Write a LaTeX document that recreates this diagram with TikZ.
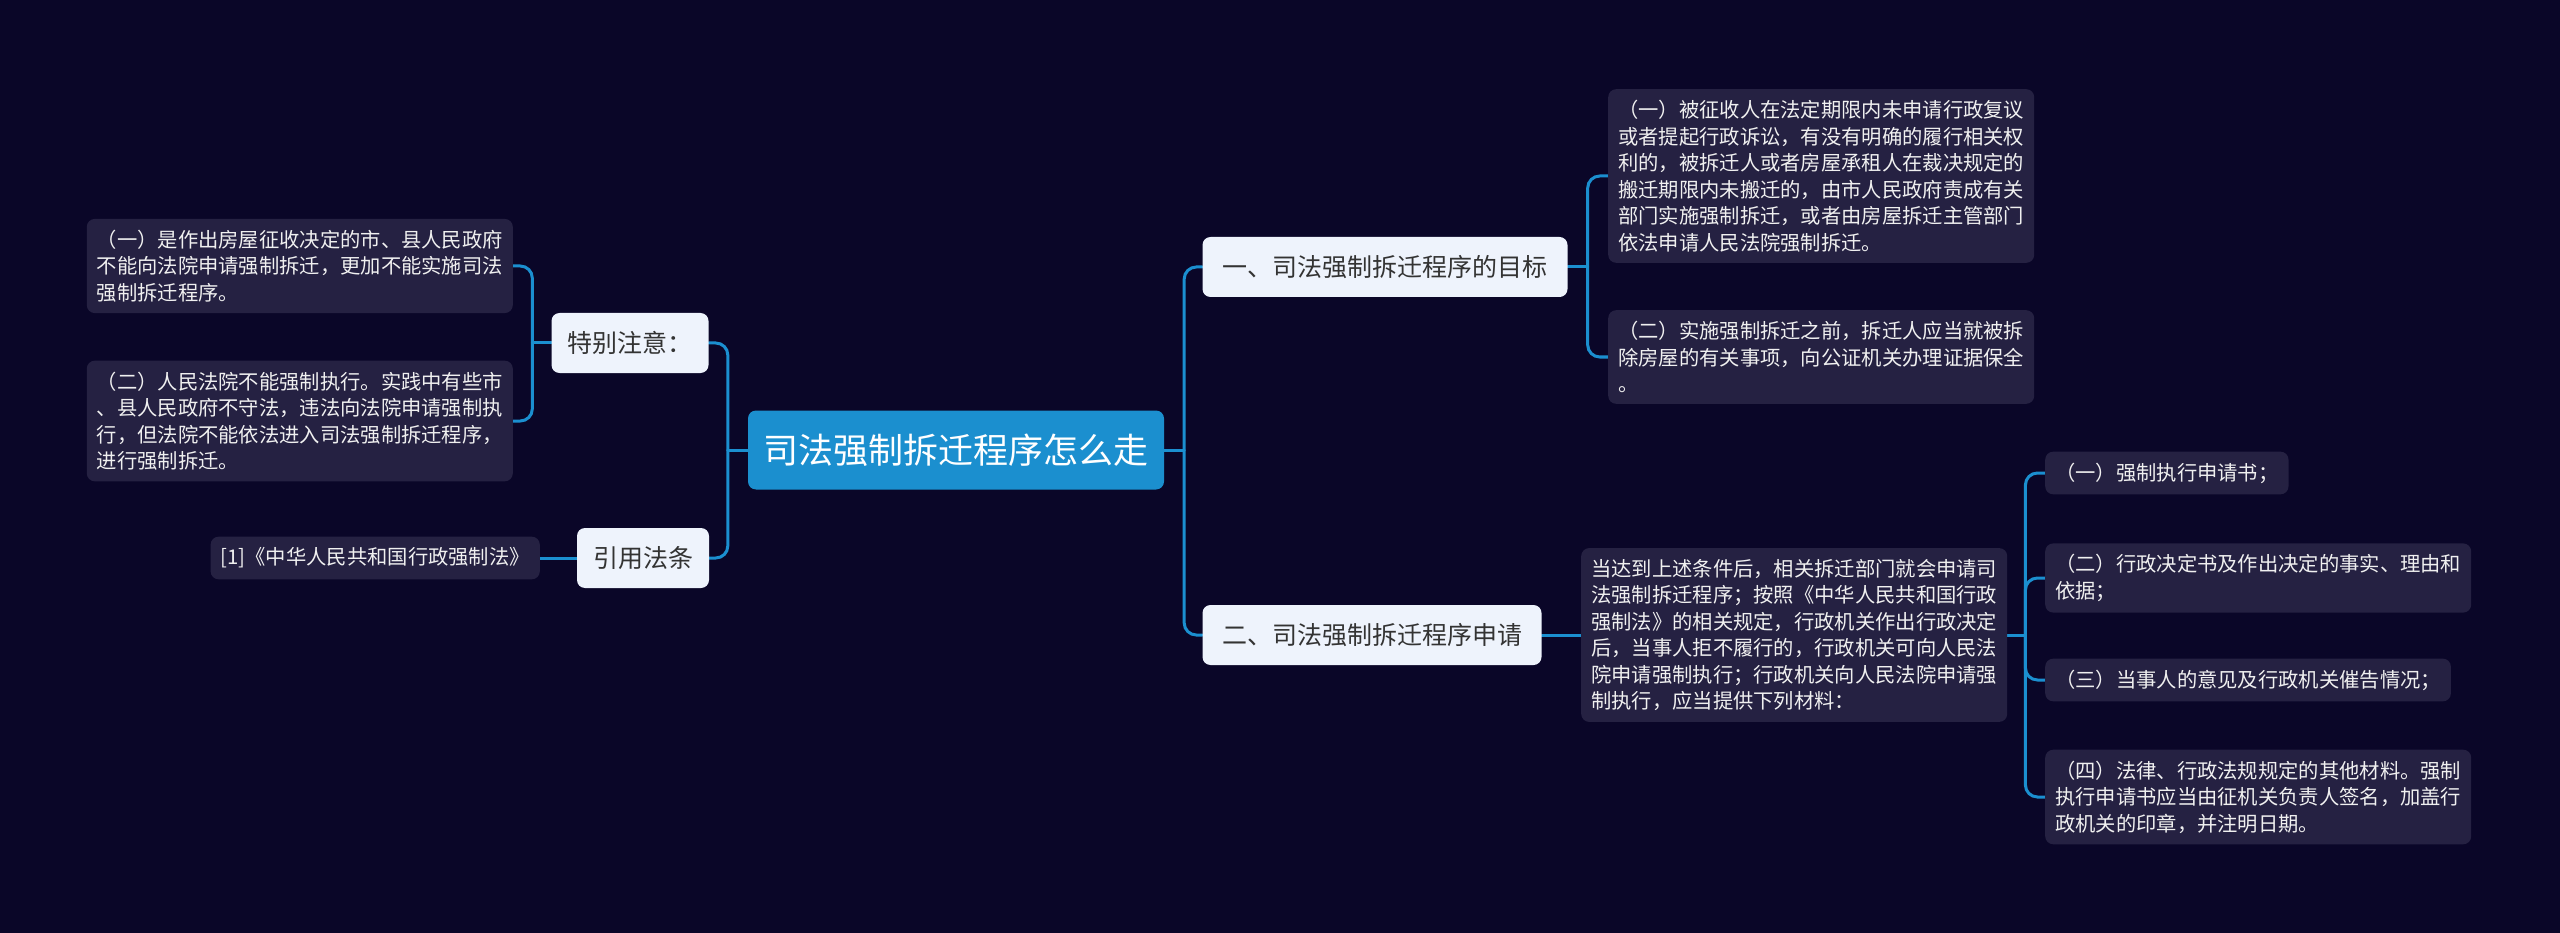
\documentclass[tikz,border=0pt]{standalone}
\usepackage{fontspec}
\setmainfont{Noto Sans CJK SC}
\usetikzlibrary{backgrounds}
\definecolor{bgc}{HTML}{0A0628}
\definecolor{leafc}{HTML}{252142}
\definecolor{linec}{HTML}{1B8FD0}
\definecolor{rootc}{HTML}{1B8FCF}
\definecolor{branchc}{HTML}{EEF3FC}
\definecolor{inkc}{HTML}{333333}
\begin{document}
\begin{tikzpicture}[x=1pt, y=-1pt,
	root/.style={fill=rootc, text=white, rounded corners=8pt, minimum width=416pt, minimum height=79pt, font=\fontsize{35}{40}\selectfont},
	branch/.style={fill=branchc, text=inkc, rounded corners=8pt, minimum height=60pt, inner xsep=16pt, font=\fontsize{25}{30}\selectfont},
	leaf/.style={fill=leafc, text=white!94!black, rounded corners=8pt, align=left, inner xsep=10pt, inner ysep=11pt, font=\fontsize{20.3}{26.5}\selectfont},
	link/.style={draw=linec, line width=3pt, rounded corners=12pt, line cap=round}]
			% centre and main branches
			\node[root] (root) at (956,450) {司法强制拆迁程序怎么走};
			\node[branch, minimum width=156pt] (notice) at (630,343) {特别注意：};
			\node[branch, minimum width=130pt] (cite) at (643,558) {引用法条};
			\node[branch, minimum width=365pt] (goal) at (1385,267) {一、司法强制拆迁程序的目标};
			\node[branch, minimum width=339pt] (apply) at (1372,635) {二、司法强制拆迁程序申请};
			% left leaves
			\node[leaf, anchor=east] (notice1) at (513,266) {（一）是作出房屋征收决定的市、县人民政府\\不能向法院申请强制拆迁，更加不能实施司法\\强制拆迁程序。};
			\node[leaf, anchor=east] (notice2) at (513,421) {（二）人民法院不能强制执行。实践中有些市\\、县人民政府不守法，违法向法院申请强制执\\行，但法院不能依法进入司法强制拆迁程序，\\进行强制拆迁。};
			\node[leaf, anchor=east] (law) at (540,558) {[1]《中华人民共和国行政强制法》};
			% right leaves
			\node[leaf, anchor=west] (goal1) at (1608,176) {（一）被征收人在法定期限内未申请行政复议\\或者提起行政诉讼，有没有明确的履行相关权\\利的，被拆迁人或者房屋承租人在裁决规定的\\搬迁期限内未搬迁的，由市人民政府责成有关\\部门实施强制拆迁，或者由房屋拆迁主管部门\\依法申请人民法院强制拆迁。};
			\node[leaf, anchor=west] (goal2) at (1608,357) {（二）实施强制拆迁之前，拆迁人应当就被拆\\除房屋的有关事项，向公证机关办理证据保全\\。};
			\node[leaf, anchor=west] (basis) at (1581,635) {当达到上述条件后，相关拆迁部门就会申请司\\法强制拆迁程序；按照《中华人民共和国行政\\强制法》的相关规定，行政机关作出行政决定\\后，当事人拒不履行的，行政机关可向人民法\\院申请强制执行；行政机关向人民法院申请强\\制执行，应当提供下列材料：};
			\node[leaf, anchor=west] (item1) at (2045,473) {（一）强制执行申请书；};
			\node[leaf, anchor=west] (item2) at (2045,578) {（二）行政决定书及作出决定的事实、理由和\\依据；};
			\node[leaf, anchor=west] (item3) at (2045,680) {（三）当事人的意见及行政机关催告情况；};
			\node[leaf, anchor=west] (item4) at (2045,797) {（四）法律、行政法规规定的其他材料。强制\\执行申请书应当由征机关负责人签名，加盖行\\政机关的印章，并注明日期。};
			\begin{scope}[on background layer]
			\fill[bgc] (0,0) rectangle (2560,933);
			\draw[link] (root.west) -- ++(-20,0) coordinate (jl);
			\draw[link] (jl) |- (notice.east);
			\draw[link] (jl) |- (cite.east);
			\draw[link] (root.east) -- ++(20,0) coordinate (jr);
			\draw[link] (jr) |- (goal.west);
			\draw[link] (jr) |- (apply.west);
			\draw[link] (notice.west) -- ++(-19,0) coordinate (jn);
			\draw[link] (jn) |- (notice1.east);
			\draw[link] (jn) |- (notice2.east);
			\draw[link] (cite.west) -- (law.east);
			\draw[link] (goal.east) -- ++(20,0) coordinate (jg);
			\draw[link] (jg) |- (goal1.west);
			\draw[link] (jg) |- (goal2.west);
			\draw[link] (apply.east) -- (basis.west);
			\draw[link] (basis.east) -- ++(18,0) coordinate (jb);
			\draw[link] (jb) |- (item1.west);
			\draw[link] (jb) |- (item2.west);
			\draw[link] (jb) |- (item3.west);
			\draw[link] (jb) |- (item4.west);
			\end{scope}
		\end{tikzpicture}
\end{document}
